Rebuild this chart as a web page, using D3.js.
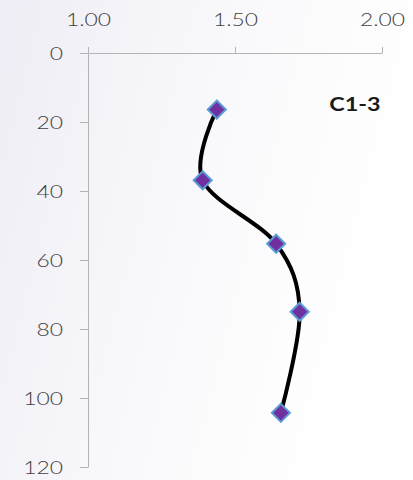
<!DOCTYPE html>
<html><head><meta charset="utf-8">
<script src="https://cdn.jsdelivr.net/npm/d3@7"></script>
<style>html,body{margin:0;padding:0;background:#fff;}svg{display:block;}</style>
</head><body>
<script>
const depth = [16.4, 36.9, 55.3, 75.0, 104.3];
const value = [1.438, 1.39, 1.64, 1.72, 1.656];
const xTicks = [1.00, 1.50, 2.00];
const yTicks = [0, 20, 40, 60, 80, 100, 120];
const seriesLabel = "C1-3";

const W = 413, H = 480;
const svg = d3.select("body").append("svg").attr("width", W).attr("height", H);
const defs = svg.append("defs");
const g0 = defs.append("linearGradient").attr("id","bg").attr("x1","0").attr("y1","0").attr("x2","1").attr("y2","0.3");
g0.append("stop").attr("offset","0").attr("stop-color","#efedf5");
g0.append("stop").attr("offset","0.6").attr("stop-color","#fafafc");
g0.append("stop").attr("offset","1").attr("stop-color","#ffffff");
svg.append("rect").attr("width",W).attr("height",H).attr("fill","url(#bg)");

const x = d3.scaleLinear().domain([1, 2]).range([88, 382]);
const y = d3.scaleLinear().domain([0, 120]).range([53, 467]);

const axisColor = "#b3b3b3";
const font = "Lato, 'Liberation Sans', sans-serif";
const sx = 1.27;

// x axis (top)
const xa = svg.append("g").attr("transform", `translate(0,${y(0)})`)
  .call(d3.axisTop(x).tickValues(xTicks).tickSize(6).tickSizeOuter(0).tickFormat(""));
xa.select(".domain").attr("stroke", axisColor);
xa.selectAll(".tick line").attr("stroke", axisColor);
xa.selectAll(".tick").append("text")
  .attr("transform", `translate(0,-27) scale(${sx},1)`)
  .attr("text-anchor","middle").attr("fill","#404040")
  .attr("font-family",font).attr("font-weight",300).attr("font-size",18)
  .text(d => d3.format(".2f")(d));

// y axis (left)
const ya = svg.append("g").attr("transform", `translate(${x(1)},0)`)
  .call(d3.axisLeft(y).tickValues(yTicks).tickSize(8).tickSizeOuter(0).tickFormat(""));
ya.select(".domain").attr("stroke", axisColor);
ya.selectAll(".tick line").attr("stroke", axisColor);
ya.selectAll(".tick").append("text")
  .attr("transform", `translate(-25,6.5) scale(${sx},1)`)
  .attr("text-anchor","end").attr("fill","#404040")
  .attr("font-family",font).attr("font-weight",300).attr("font-size",18)
  .text(d => d);

// line
const pts = depth.map((d,i)=>({d, v:value[i]}));
const line = d3.line().x(p=>x(p.v)).y(p=>y(p.d)).curve(d3.curveCatmullRom.alpha(0));
svg.append("path").datum(pts).attr("d", line)
  .attr("fill","none").attr("stroke","#000").attr("stroke-width",4).attr("stroke-linecap","round");

// markers
const r = 9;
svg.selectAll(".mk").data(pts).enter().append("path")
  .attr("d", p => {const cx=x(p.v), cy=y(p.d); return `M${cx},${cy-r}L${cx+r},${cy}L${cx},${cy+r}L${cx-r},${cy}Z`;})
  .attr("fill","#7030a0").attr("stroke","#5b9bd5").attr("stroke-width",2);

// label
svg.append("text").attr("transform", `translate(355,111) scale(1.3,1)`)
  .attr("text-anchor","middle").attr("font-family",font).attr("font-weight","bold")
  .attr("font-size",18).attr("fill","#1a1a1a").text(seriesLabel);
</script>
</body></html>
